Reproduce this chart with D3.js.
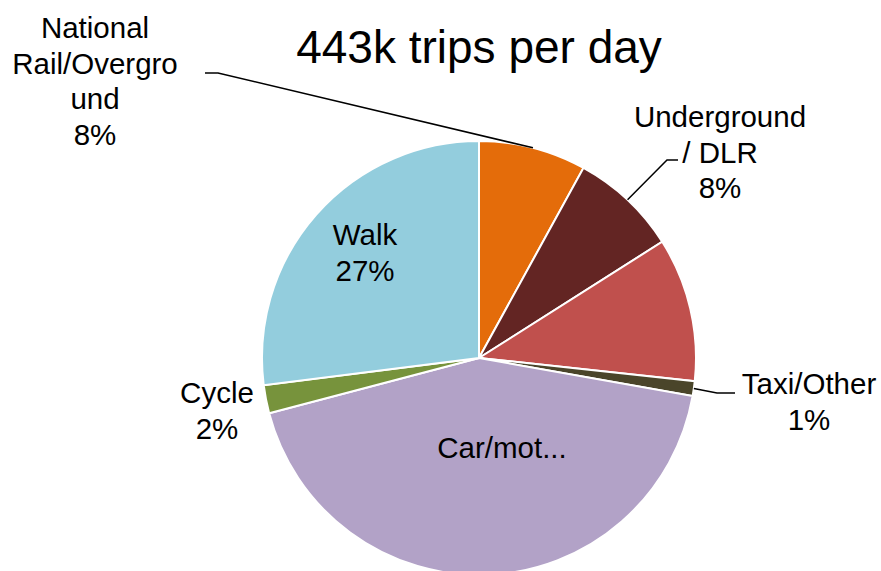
<!DOCTYPE html>
<html lang="en">
<head>
  <meta charset="UTF-8">
  <title>443k trips per day</title>
  <style>
    body { margin: 0; background: #fff; }
    svg { display: block; }
    text { font-family: "Liberation Sans", Arial, sans-serif; fill: #000; }
    .lbl { font-size: 29.5px; text-anchor: middle; }
    .title { font-size: 46px; text-anchor: middle; }
    .leader { fill: none; stroke: #000; stroke-width: 1.5px; }
    .slice { stroke: #fff; stroke-width: 2px; }
  </style>
</head>
<body>
<svg width="881" height="571"></svg>

<script src="https://cdn.jsdelivr.net/npm/d3@7/dist/d3.min.js"></script>
<script>
  const categories = ['National Rail/Overground', 'Underground / DLR', 'Bus', 'Taxi/Other', 'Car/motorcycle', 'Cycle', 'Walk'];
  const shares = [8.0, 8.0, 10.7, 1.1, 43.1, 2.1, 27.0];
  // text as it is shown (bus has no label in the chart)
  const labelLines = [
    ['National', 'Rail/Overgro', 'und', '8%'],
    ['Underground', '/ DLR', '8%'],
    [],
    ['Taxi/Other', '1%'],
    ['Car/mot...'],
    ['Cycle', '2%'],
    ['Walk', '27%']
  ];
  const colors = ['#e46c0a', '#632523', '#c0504d', '#4a452a', '#b2a2c7', '#77933c', '#93cddd'];

  const data = categories.map((c, i) => ({name: c, value: shares[i], lines: labelLines[i], color: colors[i]}));

  // label placement: first baseline x/y, plus leader line bend points
  const place = {
    'National Rail/Overground': {x: 95, y: 38, leader: [[218, 73], [205, 73]]},
    'Underground / DLR': {x: 720, y: 127, leader: [[667, 160], [678, 160]]},
    'Taxi/Other': {x: 809, y: 394, leader: [[717, 393], [735, 393]]},
    'Car/motorcycle': {x: 502, y: 458},
    'Cycle': {x: 217, y: 403},
    'Walk': {x: 365, y: 245}
  };

  const svg = d3.select('svg');
  const cx = 479, cy = 358, radius = 217, lineH = 35.5;

  svg.append('text')
    .attr('class', 'title')
    .attr('x', cx)
    .attr('y', 63)
    .text('443k trips per day');

  const pie = d3.pie().sort(null).value(d => d.value);
  const arc = d3.arc().innerRadius(0).outerRadius(radius);
  const arcs = pie(data);

  const g = svg.append('g').attr('transform', 'translate(' + cx + ',' + cy + ')');

  g.selectAll('.slice')
    .data(arcs)
    .enter()
    .append('path')
    .attr('class', 'slice')
    .attr('d', arc)
    .attr('fill', d => d.data.color);

  // leader lines start at the middle of the slice's outer edge
  arcs.forEach(d => {
    const p = place[d.data.name];
    if (!p || !p.leader) return;
    const mid = (d.startAngle + d.endAngle) / 2;
    const start = [cx + radius * Math.sin(mid), cy - radius * Math.cos(mid)];
    svg.append('path')
      .attr('class', 'leader')
      .attr('d', d3.line()([start].concat(p.leader)));
  });

  arcs.forEach(d => {
    const p = place[d.data.name];
    if (!p) return;
    const t = svg.append('text').attr('class', 'lbl');
    d.data.lines.forEach((ln, i) => {
      t.append('tspan')
        .attr('x', p.x)
        .attr('y', p.y + i * lineH)
        .text(ln);
    });
  });
</script>
</body>
</html>
